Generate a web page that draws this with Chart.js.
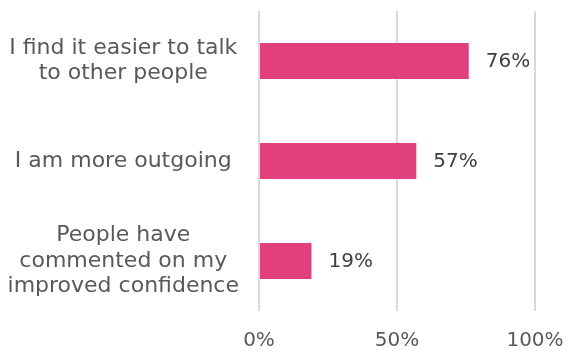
<!DOCTYPE html>
<html>
<head>
<meta charset="utf-8">
<script src="https://cdn.jsdelivr.net/npm/chart.js@4"></script>
<style>
  html, body { margin: 0; padding: 0; background: #fff; }
  #wrap { width: 569px; height: 353px; }
</style>
</head>
<body>
<div id="wrap"><canvas id="myChart"></canvas></div>
<script>
//  categories, each one split onto its lines
let categories = [
    ['I find it easier to talk', 'to other people'],
    ['I am more outgoing'],
    ['People have', 'commented on my', 'improved confidence']
]

//  share of people agreeing, in percent
let values = [76, 57, 19]

//  x axis ticks
let tickValues = [0, 50, 100]

let barColor = '#e0417c',
    gridColor = '#d9d9d9',
    textColor = '#595959',
    fontFamily = '"DejaVu Sans", Verdana, sans-serif'

//  writes the percent after the end of each bar
const valueLabels = {
    id: 'valueLabels',
    afterDatasetsDraw(chart) {
        const ctx = chart.ctx
        const meta = chart.getDatasetMeta(0)
        ctx.save()
        ctx.font = '20px ' + fontFamily
        ctx.fillStyle = '#404040'
        ctx.textAlign = 'left'
        ctx.textBaseline = 'middle'
        meta.data.forEach((bar, i) => {
            ctx.fillText(values[i] + '%', bar.x + 17, bar.y + 1)
        })
        ctx.restore()
    }
}

const ctx = document.getElementById('myChart');

new Chart(ctx, {
  type: 'bar',
  data: {
    labels: categories,
    datasets: [{
      data: values,
      backgroundColor: barColor,
      borderWidth: 0,
      barPercentage: 0.6,
      categoryPercentage: 0.6
    }]
  },
  options: {
    indexAxis: 'y',
    responsive: true,
    maintainAspectRatio: false,
    animation: false,
    layout: { padding: { top: 11, right: 34, left: 0, bottom: 0 } },
    plugins: {
      legend: { display: false },
      tooltip: { enabled: false }
    },
    scales: {
      x: {
        min: 0,
        max: 100,
        afterBuildTicks: (scale) => {
          scale.ticks = tickValues.map(v => ({ value: v }))
        },
        afterFit: (scale) => {
          scale.height = 42
          scale.paddingLeft = 0
          scale.paddingRight = 0
        },
        border: { display: false },
        grid: { color: gridColor, lineWidth: 2, drawTicks: false },
        ticks: {
          padding: 18,
          color: textColor,
          font: { family: fontFamily, size: 20 },
          callback: (v) => v + '%'
        }
      },
      y: {
        afterFit: (scale) => {
          scale.width = 259
          scale.paddingTop = 0
          scale.paddingBottom = 0
        },
        border: { display: false },
        grid: { display: false, drawTicks: false },
        ticks: {
          padding: 20,
          crossAlign: 'center',
          color: textColor,
          font: { family: fontFamily, size: 22, lineHeight: 1.16 }
        }
      }
    }
  },
  plugins: [valueLabels]
});
</script>
</body>
</html>
